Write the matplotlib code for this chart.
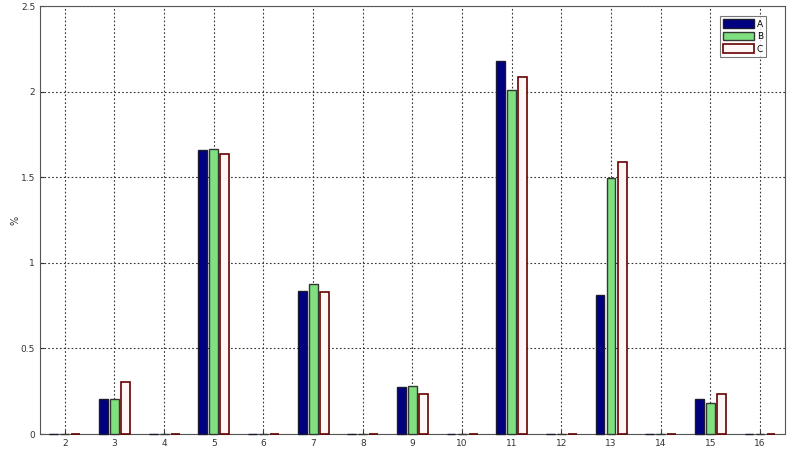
import numpy as np
import matplotlib
matplotlib.use("Agg")
import matplotlib.pyplot as plt

# classes on the x axis
classes = np.arange(2, 17)

# values in %
a_vals = [0, 0.204, 0, 1.657, 0, 0.833, 0, 0.276, 0, 2.18, 0, 0.81, 0, 0.204, 0]
b_vals = [0, 0.204, 0, 1.667, 0, 0.876, 0, 0.28, 0, 2.009, 0, 1.493, 0, 0.179, 0]
c_vals = [0, 0.305, 0, 1.634, 0, 0.828, 0, 0.232, 0, 2.085, 0, 1.59, 0, 0.234, 0]
labels = ["A", "B", "C"]

fig = plt.figure(figsize=(7.92, 4.49), dpi=100)
ax = fig.add_axes([0.0505, 0.0334, 0.9405, 0.9532])

w = 0.178   # bar width
step = 0.222  # spacing between bars in a group
ax.bar(classes - step, a_vals, w, color=(0, 0, 0.5), edgecolor=(0.1, 0.1, 0.2), linewidth=1.0, label=labels[0], zorder=3, clip_on=False)
ax.bar(classes, b_vals, w, color=(0.5, 0.88, 0.5), edgecolor=(0.2, 0.22, 0.2), linewidth=1.0, label=labels[1], zorder=3, clip_on=False)
ax.bar(classes + step, c_vals, w, color=(1, 0.97, 0.96), edgecolor=(0.4, 0, 0), linewidth=1.2, label=labels[2], zorder=3, clip_on=False)

ax.set_xlim(1.5, 16.5)
ax.set_ylim(0, 2.5)
ax.set_xticks(classes)
ax.set_yticks([0, 0.5, 1, 1.5, 2, 2.5])
ax.set_yticklabels(["0", "0.5", "1", "1.5", "2", "2.5"])
ax.tick_params(labelsize=6.5, direction="in", length=3, colors="#333333")
ax.grid(True, linestyle=(0, (1.5, 2)), color="#333333", linewidth=0.8, zorder=0)
ax.set_ylabel("%", fontsize=7, color="#333333")
ax.yaxis.set_label_coords(-0.026, 0.5)
for s in ax.spines.values():
    s.set_color("#555555")

leg = ax.legend(loc="upper right", fontsize=6.5, fancybox=False, edgecolor="#555555",
                handlelength=3.4, handleheight=1.1, borderpad=0.35, labelspacing=0.35,
                handletextpad=0.35, bbox_to_anchor=(0.981, 0.987))
leg.get_frame().set_linewidth(0.8)

fig.savefig("out.png", dpi=100)
